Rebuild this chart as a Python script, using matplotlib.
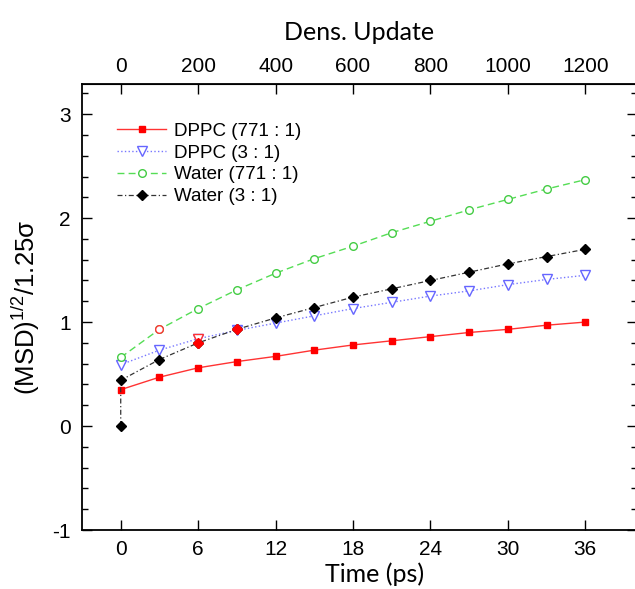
import matplotlib.pyplot as plt
from matplotlib.ticker import MultipleLocator

# time axis (ps); every 3 ps = 100 density updates
time = [0, 3, 6, 9, 12, 15, 18, 21, 24, 27, 30, 33, 36]
time_water3 = [0] + time

dppc_771 = [0.35, 0.47, 0.56, 0.62, 0.67, 0.73, 0.78, 0.82, 0.86, 0.90, 0.93, 0.97, 1.00]
dppc_3 = [0.59, 0.73, 0.84, 0.92, 0.99, 1.06, 1.13, 1.19, 1.25, 1.30, 1.36, 1.41, 1.45]
water_771 = [0.66, 0.93, 1.13, 1.31, 1.47, 1.61, 1.73, 1.86, 1.97, 2.08, 2.18, 2.28, 2.37]
water_3 = [0.0, 0.44, 0.64, 0.80, 0.93, 1.04, 1.14, 1.24, 1.32, 1.40, 1.48, 1.56, 1.63, 1.70]

labels = ['DPPC (771 : 1)', 'DPPC (3 : 1)', 'Water (771 : 1)', 'Water (3 : 1)']

# markers that are drawn in red in the original
hl_dppc_3 = [2]
hl_water_771 = [1]
hl_water_3 = [3, 4]

update_ticks = [0, 200, 400, 600, 800, 1000, 1200]

plt.rcParams['font.family'] = ['Liberation Sans', 'DejaVu Sans']
plt.rcParams['mathtext.fontset'] = 'custom'
plt.rcParams['mathtext.rm'] = 'Liberation Sans'
plt.rcParams['mathtext.it'] = 'Liberation Sans:italic'
plt.rcParams['axes.unicode_minus'] = False

fig = plt.figure(figsize=(6.35, 5.89), dpi=100)
ax = fig.add_axes([82 / 635, 1 - 530 / 589, 555 / 635, 446 / 589])

ax.plot(time, dppc_771, color='#ff3333', lw=1.0, ls='-', marker='s', ms=4.5,
        mfc='#ff0000', mec='#ff0000', label=labels[0])
ax.plot(time, dppc_3, color='#7777ff', lw=1.0, ls=':', marker='v', ms=6.5,
        mfc='white', mec='#6666ff', label=labels[1])
ax.plot(time, water_771, color='#55dd55', lw=1.0, ls=(0, (5, 3)), marker='o', ms=5.5,
        mfc='white', mec='#44cc44', label=labels[2])
ax.plot(time_water3, water_3, color='#333333', lw=0.9, ls=(0, (4, 2, 1, 2)), marker='D', ms=5,
        mfc='black', mec='black', label=labels[3])

ax.plot([time[i] for i in hl_dppc_3], [dppc_3[i] for i in hl_dppc_3], ls='none',
        marker='v', ms=6.5, mfc='white', mec='#ff3333')
ax.plot([time[i] for i in hl_water_771], [water_771[i] for i in hl_water_771], ls='none',
        marker='o', ms=5.5, mfc='white', mec='#ff3333')
ax.plot([time_water3[i] for i in hl_water_3], [water_3[i] for i in hl_water_3], ls='none',
        marker='D', ms=5, mfc='#ff0000', mec='#ff0000')

ax.set_xlim(-3, 40)
ax.set_ylim(-1, 3.29)
ax.set_xticks(time[::2])
ax.yaxis.set_major_locator(MultipleLocator(1))
ax.yaxis.set_minor_locator(MultipleLocator(0.2))
ax.tick_params(axis='y', which='major', direction='in', length=7, width=1, right=True,
               labelsize=15, pad=8)
ax.tick_params(axis='y', which='minor', direction='in', length=4, width=1, right=True)
ax.tick_params(axis='x', which='major', direction='in', length=7, width=1,
               labelsize=15, pad=7)
for s in ax.spines.values():
    s.set_linewidth(1.3)

top = ax.secondary_xaxis('top', functions=(lambda t: t * 100 / 3, lambda u: u * 3 / 100))
top.set_xticks(update_ticks)
top.tick_params(direction='in', length=7, width=1, labelsize=15, pad=6)
top.set_xlabel('Dens. Update', fontsize=18, labelpad=12, family=['Lato', 'DejaVu Sans'])

ax.set_xlabel('Time (ps)', fontsize=18, family=['Lato', 'DejaVu Sans'])
ax.xaxis.set_label_coords(0.528, -0.072)
ax.set_ylabel(r'(MSD)$^{1/2}$/1.25σ', fontsize=18.5)
ax.yaxis.set_label_coords(-0.072, 0.5)

ax.legend(loc='upper left', bbox_to_anchor=(0.05, 0.93), frameon=False, fontsize=13.5,
          handlelength=2.6, handletextpad=0.4, labelspacing=0.25, borderaxespad=0)

fig.savefig('out.png', dpi=100)
